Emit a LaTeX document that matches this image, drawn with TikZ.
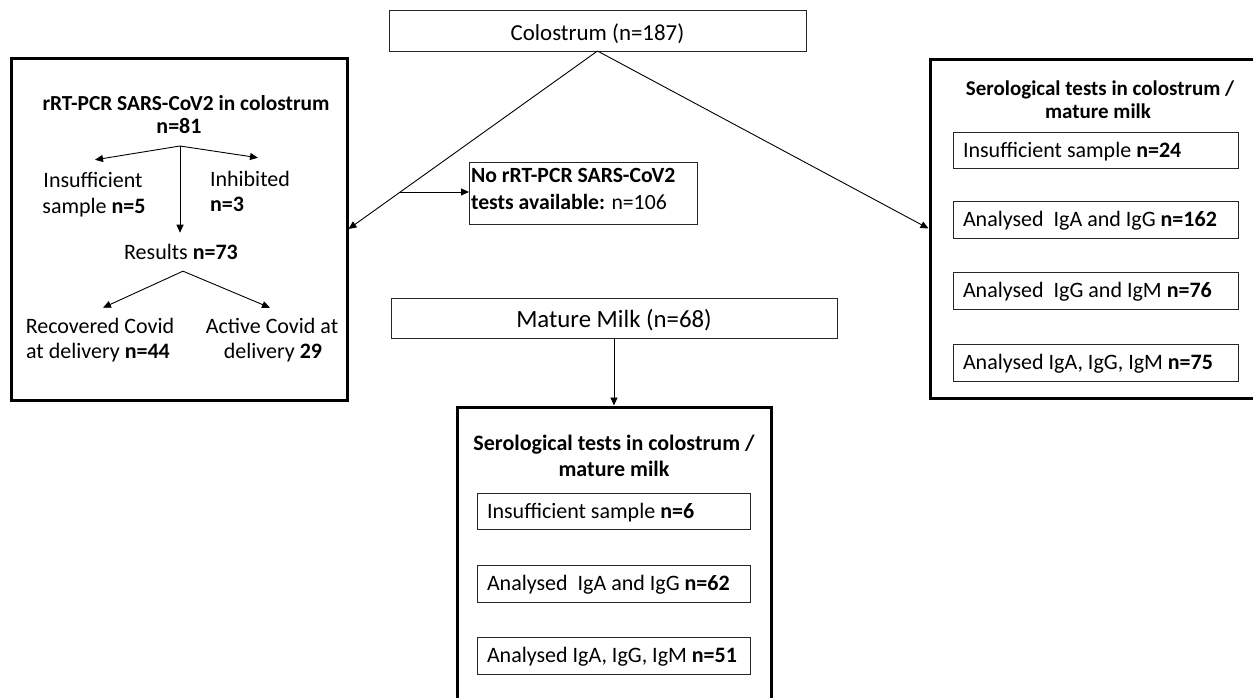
\documentclass[tikz,border=0pt]{standalone}
\usepackage{fontspec}
\setmainfont{Carlito}
\usetikzlibrary{arrows.meta,calc}
\begin{document}
\begin{tikzpicture}[x=1pt,y=-1pt,
  every node/.style={inner sep=0pt, outer sep=0pt},
  txt/.style={font=\fontsize{22}{26}\selectfont, anchor=base},
  ttl/.style={font=\fontsize{22}{26}\selectfont\bfseries, anchor=base},
  thinbox/.style={draw=black!85, line width=1pt, anchor=north west, font=\fontsize{22}{26}\selectfont},
  onebox/.style={thinbox, text height=19pt, text depth=0pt},
  itemtext/.style={font=\fontsize{22}{26}\selectfont, anchor=west, text height=14pt, text depth=0pt},
  thickbox/.style={draw, line width=3pt, anchor=north west},
  arr/.style={-{Triangle[length=8pt,width=7pt]}, line width=0.9pt},
]
\useasboundingbox (0,0) rectangle (1253,697);

% top box
\node[onebox, minimum width=417pt, minimum height=41pt, font=\fontsize{22.9}{26}\selectfont] (colo) at (389,10) {Colostrum (n=187)};

% left box
\node[thickbox, minimum width=336pt, minimum height=342pt] (lbox) at (11,58) {};
\node[ttl, font=\fontsize{21.4}{26}\selectfont\bfseries] (lt1) at (186,110) {rRT-PCR SARS-CoV2 in colostrum};
\node[ttl] (lt2) at (179,133) {n=81};
\node[txt] (ins1) at (93,187) {Insufficient};
\node[txt] (ins2) at (94,213) {sample \textbf{n=5}};
\node[txt, anchor=base west] (inh1) at (210,186) {Inhibited};
\node[txt, anchor=base west] (inh2) at (210,211) {\textbf{n=3}};
\node[txt] (res) at (181,259) {Results \textbf{n=73}};
\node[txt] (rec1) at (100,333) {Recovered Covid};
\node[txt] (rec2) at (98,358) {at delivery \textbf{n=44}};
\node[txt] (act1) at (272,333) {Active Covid at};
\node[txt] (act2) at (273,358) {delivery \textbf{29}};

\coordinate (s81) at ($(lt2.base)+(1,13)$);
\draw[arr] (s81) -- ([xshift=2pt,yshift=12pt]ins1.north);
\draw[arr] (s81) -- ([xshift=8pt,yshift=13pt]inh1.north);
\draw[arr] (s81) -- ([xshift=-1pt,yshift=11pt]res.north);
\coordinate (s73) at ([xshift=2pt,yshift=-12pt]res.south);
\draw[arr] (s73) -- ([xshift=3pt,yshift=10pt]rec1.north);
\draw[arr] (s73) -- ([xshift=-2pt,yshift=10pt]act1.north);

% no rRT box
\node[thinbox, minimum width=228pt, minimum height=62pt] (norrt) at (469,162) {};
\node[ttl, anchor=base west, font=\fontsize{21.7}{26}\selectfont\bfseries] (nr1) at (471,182) {No rRT-PCR SARS-CoV2};
\node[ttl, anchor=base west, font=\fontsize{21.7}{26}\selectfont\bfseries] (nr2) at (471,209) {tests available: \mdseries n=106};

% right box
\node[thickbox, minimum width=332pt, minimum height=339pt] (rbox) at (930,59) {};
\node[ttl, font=\fontsize{21}{26}\selectfont\bfseries] (rt1) at (1100,95) {Serological tests in colostrum /};
\node[ttl, font=\fontsize{21}{26}\selectfont\bfseries] (rt2) at (1098,118) {mature milk};
\node[thinbox, minimum width=285pt, minimum height=36pt] (ra1) at (953,132) {};
\node[itemtext] (ra1t) at ([xshift=10pt]ra1.west) {Insufficient sample \textbf{n=24}};
\node[thinbox, minimum width=285pt, minimum height=37pt] (ra2) at (953,201) {};
\node[itemtext] (ra2t) at ([xshift=10pt]ra2.west) {Analysed\ \ IgA and IgG \textbf{n=162}};
\node[thinbox, minimum width=285pt, minimum height=37pt] (ra3) at (953,272) {};
\node[itemtext] (ra3t) at ([xshift=10pt]ra3.west) {Analysed\ \ IgG and IgM \textbf{n=76}};
\node[thinbox, minimum width=285pt, minimum height=37pt] (ra4) at (953,344) {};
\node[itemtext] (ra4t) at ([xshift=10pt]ra4.west) {Analysed IgA, IgG, IgM \textbf{n=75}};

% mature milk
\node[onebox, minimum width=446pt, minimum height=40pt, font=\fontsize{24.8}{28}\selectfont] (mature) at (391,298) {Mature Milk (n=68)};

% bottom box
\node[thickbox, minimum width=314pt, minimum height=305pt] (bbox) at (457,407) {};
\node[ttl] (bt1) at (614,450) {Serological tests in colostrum /};
\node[ttl] (bt2) at (614,476) {mature milk};
\node[thinbox, minimum width=273pt, minimum height=36pt] (ba1) at (477,493) {};
\node[itemtext] (ba1t) at ([xshift=10pt]ba1.west) {Insufficient sample \textbf{n=6}};
\node[thinbox, minimum width=273pt, minimum height=37pt] (ba2) at (477,565) {};
\node[itemtext] (ba2t) at ([xshift=10pt]ba2.west) {Analysed\ \ IgA and IgG \textbf{n=62}};
\node[thinbox, minimum width=273pt, minimum height=37pt] (ba3) at (477,637) {};
\node[itemtext] (ba3t) at ([xshift=10pt]ba3.west) {Analysed IgA, IgG, IgM \textbf{n=51}};

% connectors
\draw[arr] (colo.south) -- ([xshift=1.5pt]lbox.east);
\draw[arr] (colo.south) -- ([xshift=-1.5pt]rbox.west);
\coordinate (brk) at ($(colo.south)!0.792!(lbox.east)$);
\draw[arr] (brk) -- (norrt.west |- brk);
\draw[arr] (mature.south) -- ([yshift=1.5pt]bbox.north);
\end{tikzpicture}
\end{document}
